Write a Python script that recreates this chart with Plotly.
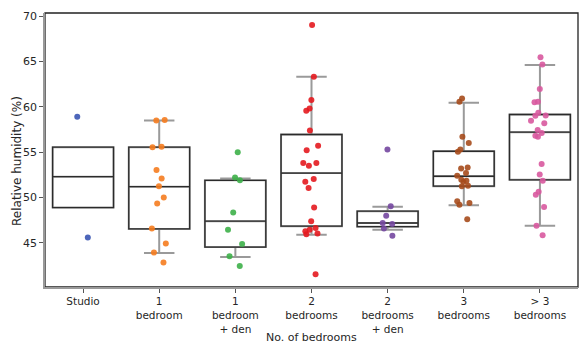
import plotly.graph_objects as go

# Bedroom categories and their tick labels
categories = ["Studio", "1 bedroom", "1 bedroom + den", "2 bedrooms",
              "2 bedrooms + den", "3 bedrooms", "> 3 bedrooms"]
tick_labels = ["Studio", "1<br>bedroom", "1<br>bedroom<br>+ den", "2<br>bedrooms",
               "2<br>bedrooms<br>+ den", "3<br>bedrooms", "> 3<br>bedrooms"]

# Relative humidity readings (%) per category
studio = [58.9, 45.6]
one_bed = [58.55, 58.5, 55.6, 55.55, 53.05, 52.1, 51.25, 50.0, 49.35, 46.6, 44.95, 43.95, 42.85]
one_bed_den = [55.0, 52.2, 51.9, 48.35, 46.45, 44.9, 43.55, 42.45]
two_bed = [69.0, 63.3, 60.75, 59.8, 59.55, 57.4, 55.7, 55.2, 53.8, 53.8, 53.5,
           52.05, 51.75, 51.05, 48.9, 47.4, 46.65, 46.45, 46.3, 46.05, 45.95, 41.55]
two_bed_den = [55.3, 49.05, 48.0, 47.2, 47.1, 46.6, 45.8]
three_bed = [60.9, 60.55, 56.7, 56.0, 55.3, 55.05, 53.3, 53.2, 52.7, 52.4, 51.95,
             51.85, 51.75, 51.3, 51.25, 49.6, 49.4, 49.2, 47.6]
more_bed = [65.45, 64.65, 61.95, 60.55, 60.5, 59.35, 59.05, 59.0, 58.45, 58.2, 57.45,
            57.1, 56.8, 56.7, 53.7, 52.55, 51.85, 50.65, 50.3, 48.95, 46.9, 45.85]
series = [studio, one_bed, one_bed_den, two_bed, two_bed_den, three_bed, more_bed]

# Box summary statistics per category
q1 = [48.9, 46.55, 44.55, 46.85, 46.8, 51.25, 51.95]
median = [52.3, 51.2, 47.4, 52.7, 47.2, 52.35, 57.2]
q3 = [55.55, 55.55, 51.9, 56.95, 48.5, 55.1, 59.15]
lower_whisker = [48.9, 43.9, 43.45, 45.9, 46.45, 49.15, 46.9]
upper_whisker = [55.55, 58.5, 52.1, 63.3, 49.0, 60.45, 64.6]

colors = ["#3a55b2", "#f57c1f", "#3db049", "#e41a1f", "#7447a0", "#a64b1c", "#d8599f"]

positions = list(range(len(categories)))

fig = go.Figure()

# Whiskers and caps (grey)
fig.add_trace(go.Box(
    x=positions, q1=q1, median=median, q3=q3,
    lowerfence=lower_whisker, upperfence=upper_whisker,
    width=0.8, whiskerwidth=0.5, boxpoints=False,
    fillcolor="rgba(0,0,0,0)", line=dict(color="#9a9a9a", width=2),
    showlegend=False, hoverinfo="skip",
))
# Box outline and median (dark)
fig.add_trace(go.Box(
    x=positions, q1=q1, median=median, q3=q3,
    lowerfence=q1, upperfence=q3,
    width=0.8, whiskerwidth=0, boxpoints=False,
    fillcolor="rgba(0,0,0,0)", line=dict(color="#2b2b2b", width=1.3),
    showlegend=False, hoverinfo="skip",
))

# Jittered individual readings
for i, (vals, col) in enumerate(zip(series, colors)):
    fig.add_trace(go.Box(
        x=[i] * len(vals), y=vals, name=categories[i],
        boxpoints="all", jitter=0.3, pointpos=0, width=0.8,
        fillcolor="rgba(0,0,0,0)", line=dict(color="rgba(0,0,0,0)", width=0),
        marker=dict(color=col, size=6, opacity=0.9),
        showlegend=False,
    ))

fig.add_shape(type="rect", xref="paper", yref="paper", x0=0, y0=0, x1=1, y1=1,
              line=dict(color="#222222", width=1.3), layer="below")

# Axis titles
fig.add_annotation(text="No. of bedrooms", xref="paper", yref="paper",
                   x=0.5, y=-50 / 274, yanchor="middle", xanchor="center",
                   showarrow=False, font=dict(size=11))
fig.add_annotation(text="Relative humidity (%)", xref="paper", yref="paper",
                   x=-28 / 533, y=0.46, textangle=-90, xanchor="center", yanchor="middle",
                   showarrow=False, font=dict(size=12))

fig.update_layout(
    width=579, height=343,
    margin=dict(l=45, r=1, t=13, b=56),
    paper_bgcolor="white", plot_bgcolor="white",
    boxmode="overlay",
    font=dict(family="DejaVu Sans", size=11, color="#262626"),
    xaxis=dict(
        range=[-0.5, 6.5], tickmode="array", tickvals=positions, ticktext=tick_labels,
        tickfont=dict(size=10.5),
        showgrid=False, zeroline=False, showline=True, linecolor="#999999", linewidth=1.5,
        ticks="outside", ticklen=4, tickcolor="#555555", automargin=False,
    ),
    yaxis=dict(
        range=[40.15, 70.33], tickvals=[45, 50, 55, 60, 65, 70],
        showgrid=False, zeroline=False, showline=True, linecolor="#999999", linewidth=1.5,
        ticks="outside", ticklen=4, tickcolor="#555555", automargin=False,
    ),
)

fig.write_html("out.html")
